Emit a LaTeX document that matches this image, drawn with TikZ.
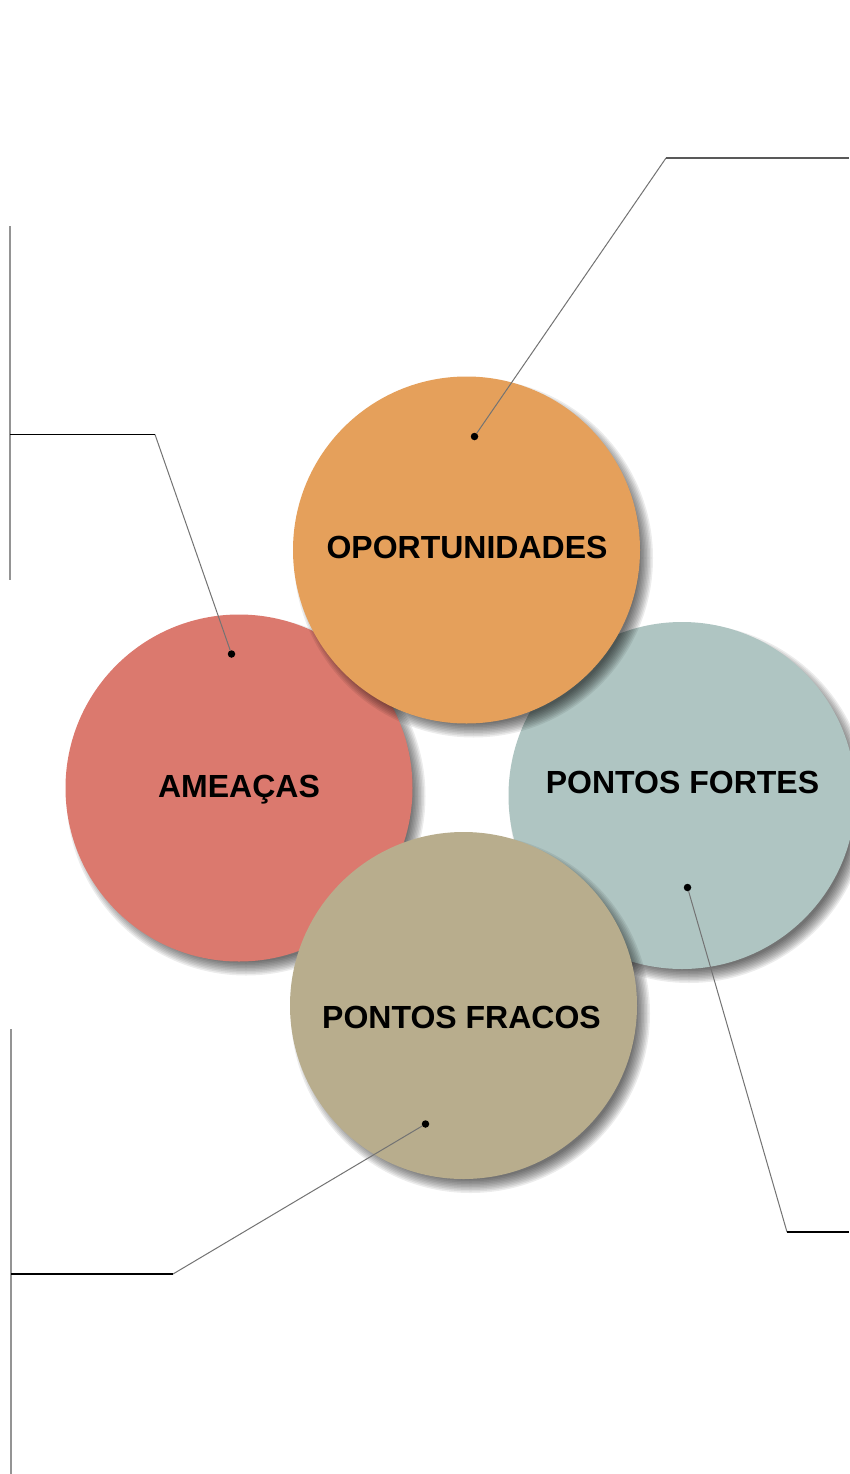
\documentclass[tikz,border=0pt]{standalone}
\usepackage{fontspec}
\setmainfont{Liberation Sans}
\usetikzlibrary{calc}
\definecolor{corOport}{HTML}{E5A05B}
\definecolor{corAmeaca}{HTML}{DB796E}
\definecolor{corFortes}{HTML}{AFC5C2}
\definecolor{corFracos}{HTML}{B8AD8D}
\tikzset{
  bolha/.style={circle, minimum size=347pt, inner sep=0pt, draw=none},
  sombrinha/.style={fill=black, opacity=0.075, draw=none},
  rotulo/.style={font=\bfseries\fontsize{32}{35}\selectfont, anchor=base, inner sep=0pt, text=black},
  ponto/.style={circle, fill=black, inner sep=0pt, minimum size=7.5pt},
  guia/.style={draw=black!55, line width=1pt},
  horiz/.style={draw=black, line width=1.1pt},
  horizcinza/.style={draw=black!65, line width=1.2pt},
  barra/.style={draw=black!42, line width=2pt}
}
\newcommand{\sombraBolha}[1]{%
  \foreach \raio in {166,167.5,...,179.5} {\fill[sombrinha] ($(#1)+(7,8)$) circle (\raio pt);}}
\begin{document}
\begin{tikzpicture}[x=1pt,y=-1pt]
\useasboundingbox (0,0) rectangle (849,1474);
\fill[white] (0,0) rectangle (849,1474);

\coordinate (cAmeaca) at (239,788);
\coordinate (cFortes) at (682,795.5);
\coordinate (cOport) at (466.5,550);
\coordinate (cFracos) at (463.5,1005.5);

% circles with shadows
\sombraBolha{cAmeaca}
\node[bolha, fill=corAmeaca] (ameacas) at (cAmeaca) {};
\sombraBolha{cFortes}
\node[bolha, fill=corFortes] (fortes) at (cFortes) {};
\sombraBolha{cOport}
\node[bolha, fill=corOport] (oport) at (cOport) {};
\sombraBolha{cFracos}
\node[bolha, fill=corFracos] (fracos) at (cFracos) {};

% labels
\node[rotulo] (tOport) at (467,558) {OPORTUNIDADES};
\node[rotulo] (tAmeacas) at (239,797) {AMEAÇAS};
\node[rotulo] (tFortes) at (682.5,793) {PONTOS FORTES};
\node[rotulo] (tFracos) at (461.5,1028) {PONTOS FRACOS};

% bars
\coordinate (barraAtopo) at (10,226);
\coordinate (barraAbase) at (10,580);
\coordinate (barraBtopo) at (11,1029);
\coordinate (barraBbase) at (11,1474);
\draw[barra] (barraAtopo) -- (barraAbase);
\draw[barra] (barraBtopo) -- (barraBbase);

% elbows and ends
\coordinate (cotOport) at (666,158);
\coordinate (fimOport) at (849,158);
\coordinate (cotAmeaca) at (155,434.5);
\coordinate (fimAmeaca) at (10,434.5);
\coordinate (cotFortes) at (787,1232);
\coordinate (fimFortes) at (849,1232);
\coordinate (cotFracos) at (173,1274);
\coordinate (fimFracos) at (11,1274);

% dots
\node[ponto] (pOport) at (474.5,436.5) {};
\node[ponto] (pAmeaca) at (231.5,654) {};
\node[ponto] (pFortes) at (687.5,887.5) {};
\node[ponto] (pFracos) at (425.5,1124) {};

% leader lines
\draw[guia] (pOport) -- (cotOport);
\draw[horizcinza] (cotOport) -- (fimOport);
\draw[guia] (pAmeaca) -- (cotAmeaca);
\draw[horiz] (cotAmeaca) -- (fimAmeaca);
\draw[guia] (pFortes) -- (cotFortes);
\draw[horiz] (cotFortes) -- (fimFortes);
\draw[guia] (pFracos) -- (cotFracos);
\draw[horiz] (cotFracos) -- (fimFracos);
\end{tikzpicture}
\end{document}
